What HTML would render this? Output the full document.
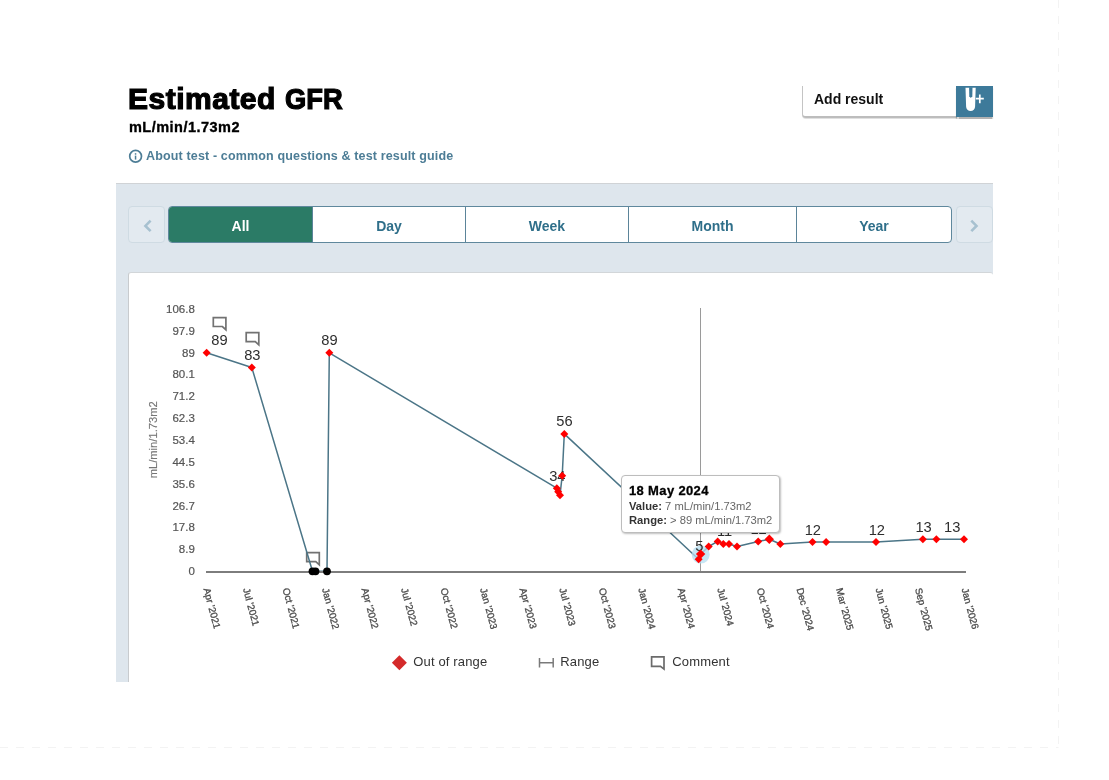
<!DOCTYPE html>
<html lang="en">
<head>
<meta charset="utf-8">
<title>Estimated GFR</title>
<style>
html,body{margin:0;padding:0;background:#fff;}
body{width:1109px;height:780px;position:relative;overflow:hidden;font-family:"Liberation Sans",sans-serif;color:#000;}
.abs{position:absolute;white-space:nowrap;}
#title{left:128px;top:81.4px;font-size:30px;font-weight:bold;line-height:36px;letter-spacing:0.5px;-webkit-text-stroke:1.2px #000;}
#title span{display:inline-block;letter-spacing:0;transform-origin:0 50%;transform:scaleX(0.91);}
#unit{left:129px;top:117px;font-size:14.5px;font-weight:bold;line-height:20px;letter-spacing:0.48px;-webkit-text-stroke:0.35px #000;}
#about{left:146px;top:148px;font-size:12.5px;font-weight:bold;line-height:16px;color:#4d7d96;letter-spacing:0.15px;}
#panel{left:116px;top:183px;width:877px;height:499px;background:#dee6ed;border-top:1px solid #d0d3d6;box-sizing:border-box;}
#card{left:128px;top:272px;width:865px;height:410px;background:#fff;border-top:1px solid #d2d6d9;border-left:1px solid #c8cbce;box-sizing:border-box;border-top-left-radius:3px;border-top-right-radius:3px;}
#prev,#next{top:206px;width:36.5px;height:36.7px;box-sizing:border-box;border:1px solid #cfdbe3;border-radius:4px;background:#e3eaf0;}
#prev{left:128px;}
#next{left:956.4px;}
#tabs{left:168px;top:206px;width:784px;height:37px;box-sizing:border-box;border:1px solid #5f889d;border-radius:4px;background:#fff;overflow:hidden;}
.tab{position:absolute;top:0;height:35px;line-height:38px;text-align:center;font-size:14px;font-weight:bold;color:#2f6f8a;border-left:1px solid #5b8499;box-sizing:border-box;}
.tab.sel{background:#2b7b66;color:#fff;border-left:none;}
#addbox{left:802px;top:86px;width:155px;height:32px;box-sizing:border-box;border-left:1px solid #c4c4c4;border-bottom:2px solid #bdbdbd;border-bottom-left-radius:4px;background:#fff;box-shadow:0 1px 0 rgba(0,0,0,0.12);}
#addtxt{left:814px;top:90px;font-size:14px;font-weight:bold;line-height:18px;color:#111;}
#addbtn{left:956px;top:86px;width:37px;height:31px;background:#3d7a9a;box-shadow:0 1.5px 1px rgba(0,0,0,0.3);}
#tip{left:621px;top:475px;width:159px;height:57.6px;box-sizing:border-box;border:1px solid #bdbdbd;border-radius:4px;background:#fff;box-shadow:1px 1px 2px rgba(0,0,0,0.25);}
#tip div{position:absolute;left:7px;white-space:nowrap;}
#tip .t{top:7px;font-size:13px;font-weight:bold;line-height:16px;letter-spacing:0.35px;-webkit-text-stroke:0.3px #000;}
#tip .v{font-size:11.2px;line-height:14px;color:#666;}
#tip .v b{color:#333;}
</style>
</head>
<body>
<div class="abs" id="title">Estimated <span>GFR</span></div>
<div class="abs" id="unit">mL/min/1.73m2</div>
<svg class="abs" style="left:128px;top:149px" width="15" height="15" viewBox="0 0 15 15"><circle cx="7.6" cy="7.3" r="5.9" fill="none" stroke="#4d7d96" stroke-width="1.7"/><rect x="6.8" y="6.6" width="1.5" height="4" fill="#4d7d96"/><rect x="6.8" y="4.2" width="1.5" height="1.5" fill="#4d7d96"/></svg>
<div class="abs" id="about">About test - common questions &amp; test result guide</div>

<div class="abs" id="addbox"></div>
<div class="abs" id="addtxt">Add result</div>
<div class="abs" id="addbtn"></div>
<svg class="abs" style="left:956px;top:86px" width="37" height="31" viewBox="0 0 37 31">
  <path d="M9.5 1.8H19.7L19.1 20.6a4.5 4.5 0 0 1-9 0Z" fill="#fff"/>
  <path d="M13.1 1.2H16.5L16.3 10.2L14.8 12L13.3 10.2Z" fill="#3d7a9a"/>
  <path d="M19.8 12.7h8M23.8 8.4v8.8" stroke="#fff" stroke-width="1.7" fill="none"/>
</svg>

<div class="abs" id="panel"></div>
<div class="abs" id="prev"></div>
<div class="abs" id="tabs">
  <div class="tab sel" style="left:0;width:143px;">All</div>
  <div class="tab" style="left:143px;width:153px;">Day</div>
  <div class="tab" style="left:296px;width:163px;">Week</div>
  <div class="tab" style="left:459px;width:168px;">Month</div>
  <div class="tab" style="left:627px;width:155px;">Year</div>
</div>
<div class="abs" id="next"></div>
<svg class="abs" style="left:128px;top:206px" width="37" height="37" viewBox="0 0 37 37"><path d="M22.6 14.6L17.4 19.9L22.6 25.2" fill="none" stroke="#a7c1d0" stroke-width="2.6"/></svg>
<svg class="abs" style="left:956px;top:206px" width="37" height="37" viewBox="0 0 37 37"><path d="M15.3 14.6L20.5 19.9L15.3 25.2" fill="none" stroke="#a7c1d0" stroke-width="2.6"/></svg>
<div class="abs" id="card"></div>
<svg class="abs" id="chart" style="left:0;top:0" width="1109" height="780" viewBox="0 0 1109 780">
<g font-family="'Liberation Sans', sans-serif" font-size="11.5" fill="#555" stroke="#555" stroke-width="0.2" text-anchor="end">
<text x="194.8" y="312.8">106.8</text>
<text x="194.8" y="334.7">97.9</text>
<text x="194.8" y="356.5">89</text>
<text x="194.8" y="378.4">80.1</text>
<text x="194.8" y="400.2">71.2</text>
<text x="194.8" y="422.1">62.3</text>
<text x="194.8" y="443.9">53.4</text>
<text x="194.8" y="465.8">44.5</text>
<text x="194.8" y="487.6">35.6</text>
<text x="194.8" y="509.5">26.7</text>
<text x="194.8" y="531.3">17.8</text>
<text x="194.8" y="553.2">8.9</text>
<text x="194.8" y="575.0">0</text>
</g>
<text transform="translate(157,439.8) rotate(-90)" text-anchor="middle" font-family="'Liberation Sans', sans-serif" font-size="11.2" fill="#767676" stroke="#767676" stroke-width="0.15">mL/min/1.73m2</text>
<g font-family="'Liberation Sans', sans-serif" font-size="9.8" fill="#4a4a4a" stroke="#4a4a4a" stroke-width="0.3">
<text transform="translate(203.4,589) rotate(75)">Apr '2021</text>
<text transform="translate(242.9,589) rotate(75)">Jul '2021</text>
<text transform="translate(282.5,589) rotate(75)">Oct '2021</text>
<text transform="translate(322.0,589) rotate(75)">Jan '2022</text>
<text transform="translate(361.5,589) rotate(75)">Apr '2022</text>
<text transform="translate(401.1,589) rotate(75)">Jul '2022</text>
<text transform="translate(440.6,589) rotate(75)">Oct '2022</text>
<text transform="translate(480.1,589) rotate(75)">Jan '2023</text>
<text transform="translate(519.6,589) rotate(75)">Apr '2023</text>
<text transform="translate(559.2,589) rotate(75)">Jul '2023</text>
<text transform="translate(598.7,589) rotate(75)">Oct '2023</text>
<text transform="translate(638.2,589) rotate(75)">Jan '2024</text>
<text transform="translate(677.8,589) rotate(75)">Apr '2024</text>
<text transform="translate(717.3,589) rotate(75)">Jul '2024</text>
<text transform="translate(756.8,589) rotate(75)">Oct '2024</text>
<text transform="translate(796.4,589) rotate(75)">Dec '2024</text>
<text transform="translate(835.9,589) rotate(75)">Mar '2025</text>
<text transform="translate(875.4,589) rotate(75)">Jun '2025</text>
<text transform="translate(914.9,589) rotate(75)">Sep '2025</text>
<text transform="translate(961.4,589) rotate(75)">Jan '2026</text>
</g>
<line x1="700.5" y1="308" x2="700.5" y2="572" stroke="#9a9a9a" stroke-width="1"/>
<path d="M213.3 317.6H225.9V329.7L222.4 326.5H213.3Z" fill="none" stroke="#727272" stroke-width="1.7" stroke-linejoin="miter"/>
<path d="M246.2 332.7H258.8V344.8L255.3 341.6H246.2Z" fill="none" stroke="#727272" stroke-width="1.7" stroke-linejoin="miter"/>
<path d="M306.7 552.7H319.3V564.8L315.8 561.6H306.7Z" fill="none" stroke="#727272" stroke-width="1.7" stroke-linejoin="miter"/>
<path d="M206.6 352.8 L251.8 367.5 L312.5 571.3 L315.5 571.3 L327.0 571.3 L329.3 352.8 L556.8 488.2 L558.2 491.7 L560.0 495.2 L562.2 475.7 L564.3 433.9 L698.6 559.2 L700.6 554.1 L708.7 546.5 L717.7 541.4 L723.3 544.0 L729.0 544.0 L737.0 546.5 L758.2 541.4 L769.3 539.3 L780.3 544.0 L812.5 541.9 L826.1 541.9 L876.0 541.9 L922.9 539.2 L936.4 539.2 L964.0 539.2" fill="none" stroke="#4b7587" stroke-width="1.5" stroke-linejoin="round"/>
<rect x="206" y="571" width="760" height="2" fill="#7d7d7d"/>
<circle cx="700.7" cy="554.6" r="9" fill="#b4ddf0" fill-opacity="0.75"/>
<g font-family="'Liberation Sans', sans-serif" font-size="14.7" fill="#2e2e2e" text-anchor="middle">
<text x="219.5" y="345.2">89</text>
<text x="252.3" y="360.0">83</text>
<text x="329.5" y="345.0">89</text>
<text x="557.3" y="480.5">34</text>
<text x="564.4" y="426.4">56</text>
<text x="699.4" y="550.6">5</text>
<text x="724.6" y="536.2">11</text>
<text x="758.6" y="533.8">12</text>
<text x="812.8" y="534.8">12</text>
<text x="876.8" y="534.8">12</text>
<text x="923.6" y="531.9">13</text>
<text x="952.2" y="531.9">13</text>
</g>
<path d="M206.6 348.8L210.6 352.8L206.6 356.8L202.6 352.8Z" fill="#f00"/>
<path d="M251.8 363.5L255.8 367.5L251.8 371.5L247.8 367.5Z" fill="#f00"/>
<circle cx="312.5" cy="571.3" r="3.9" fill="#000"/>
<circle cx="315.5" cy="571.3" r="3.9" fill="#000"/>
<circle cx="327.0" cy="571.3" r="3.9" fill="#000"/>
<path d="M329.3 348.8L333.3 352.8L329.3 356.8L325.3 352.8Z" fill="#f00"/>
<path d="M556.8 484.2L560.8 488.2L556.8 492.2L552.8 488.2Z" fill="#f00"/>
<path d="M558.2 487.7L562.2 491.7L558.2 495.7L554.2 491.7Z" fill="#f00"/>
<path d="M560.0 491.2L564.0 495.2L560.0 499.2L556.0 495.2Z" fill="#f00"/>
<path d="M562.2 471.7L566.2 475.7L562.2 479.7L558.2 475.7Z" fill="#f00"/>
<path d="M564.3 429.9L568.3 433.9L564.3 437.9L560.3 433.9Z" fill="#f00"/>
<path d="M698.6 555.2L702.6 559.2L698.6 563.2L694.6 559.2Z" fill="#f00"/>
<path d="M700.6 549.4L705.3 554.1L700.6 558.8L695.9 554.1Z" fill="#f00"/>
<path d="M708.7 542.5L712.7 546.5L708.7 550.5L704.7 546.5Z" fill="#f00"/>
<path d="M717.7 537.4L721.7 541.4L717.7 545.4L713.7 541.4Z" fill="#f00"/>
<path d="M723.3 540.0L727.3 544.0L723.3 548.0L719.3 544.0Z" fill="#f00"/>
<path d="M729.0 540.0L733.0 544.0L729.0 548.0L725.0 544.0Z" fill="#f00"/>
<path d="M737.0 542.5L741.0 546.5L737.0 550.5L733.0 546.5Z" fill="#f00"/>
<path d="M758.2 537.4L762.2 541.4L758.2 545.4L754.2 541.4Z" fill="#f00"/>
<path d="M769.3 534.6L774.0 539.3L769.3 544.0L764.6 539.3Z" fill="#f00"/>
<path d="M780.3 540.0L784.3 544.0L780.3 548.0L776.3 544.0Z" fill="#f00"/>
<path d="M812.5 537.9L816.5 541.9L812.5 545.9L808.5 541.9Z" fill="#f00"/>
<path d="M826.1 537.9L830.1 541.9L826.1 545.9L822.1 541.9Z" fill="#f00"/>
<path d="M876.0 537.9L880.0 541.9L876.0 545.9L872.0 541.9Z" fill="#f00"/>
<path d="M922.9 535.2L926.9 539.2L922.9 543.2L918.9 539.2Z" fill="#f00"/>
<path d="M936.4 535.2L940.4 539.2L936.4 543.2L932.4 539.2Z" fill="#f00"/>
<path d="M964.0 535.2L968.0 539.2L964.0 543.2L960.0 539.2Z" fill="#f00"/>
<path d="M399.4 655.3L406.9 662.8L399.4 670.3L391.9 662.8Z" fill="#d42a2a"/>
<path d="M539.5 658V667.4M553.2 658V667.4M539.5 662.7H553.2" fill="none" stroke="#7a7a7a" stroke-width="1.5"/>
<path d="M651.6 656.8H664.0V669.1L660.5 666.3H651.6Z" fill="none" stroke="#6b6b6b" stroke-width="1.7" stroke-linejoin="miter"/>
<g font-family="'Liberation Sans', sans-serif" font-size="13" fill="#333" letter-spacing="0.15">
<text x="413.3" y="666">Out of range</text>
<text x="560.3" y="666">Range</text>
<text x="672.3" y="666">Comment</text>
</g>
<path d="M0 747.5H1058.5M1058.5 0V747.5" fill="none" stroke="#f3f3f3" stroke-width="1" stroke-dasharray="8 8"/>
</svg>
<div class="abs" id="tip">
  <div class="t">18 May 2024</div>
  <div class="v" style="top:22.5px"><b>Value:</b> 7 mL/min/1.73m2</div>
  <div class="v" style="top:36.5px"><b>Range:</b> &gt; 89 mL/min/1.73m2</div>
</div>
</body>
</html>
